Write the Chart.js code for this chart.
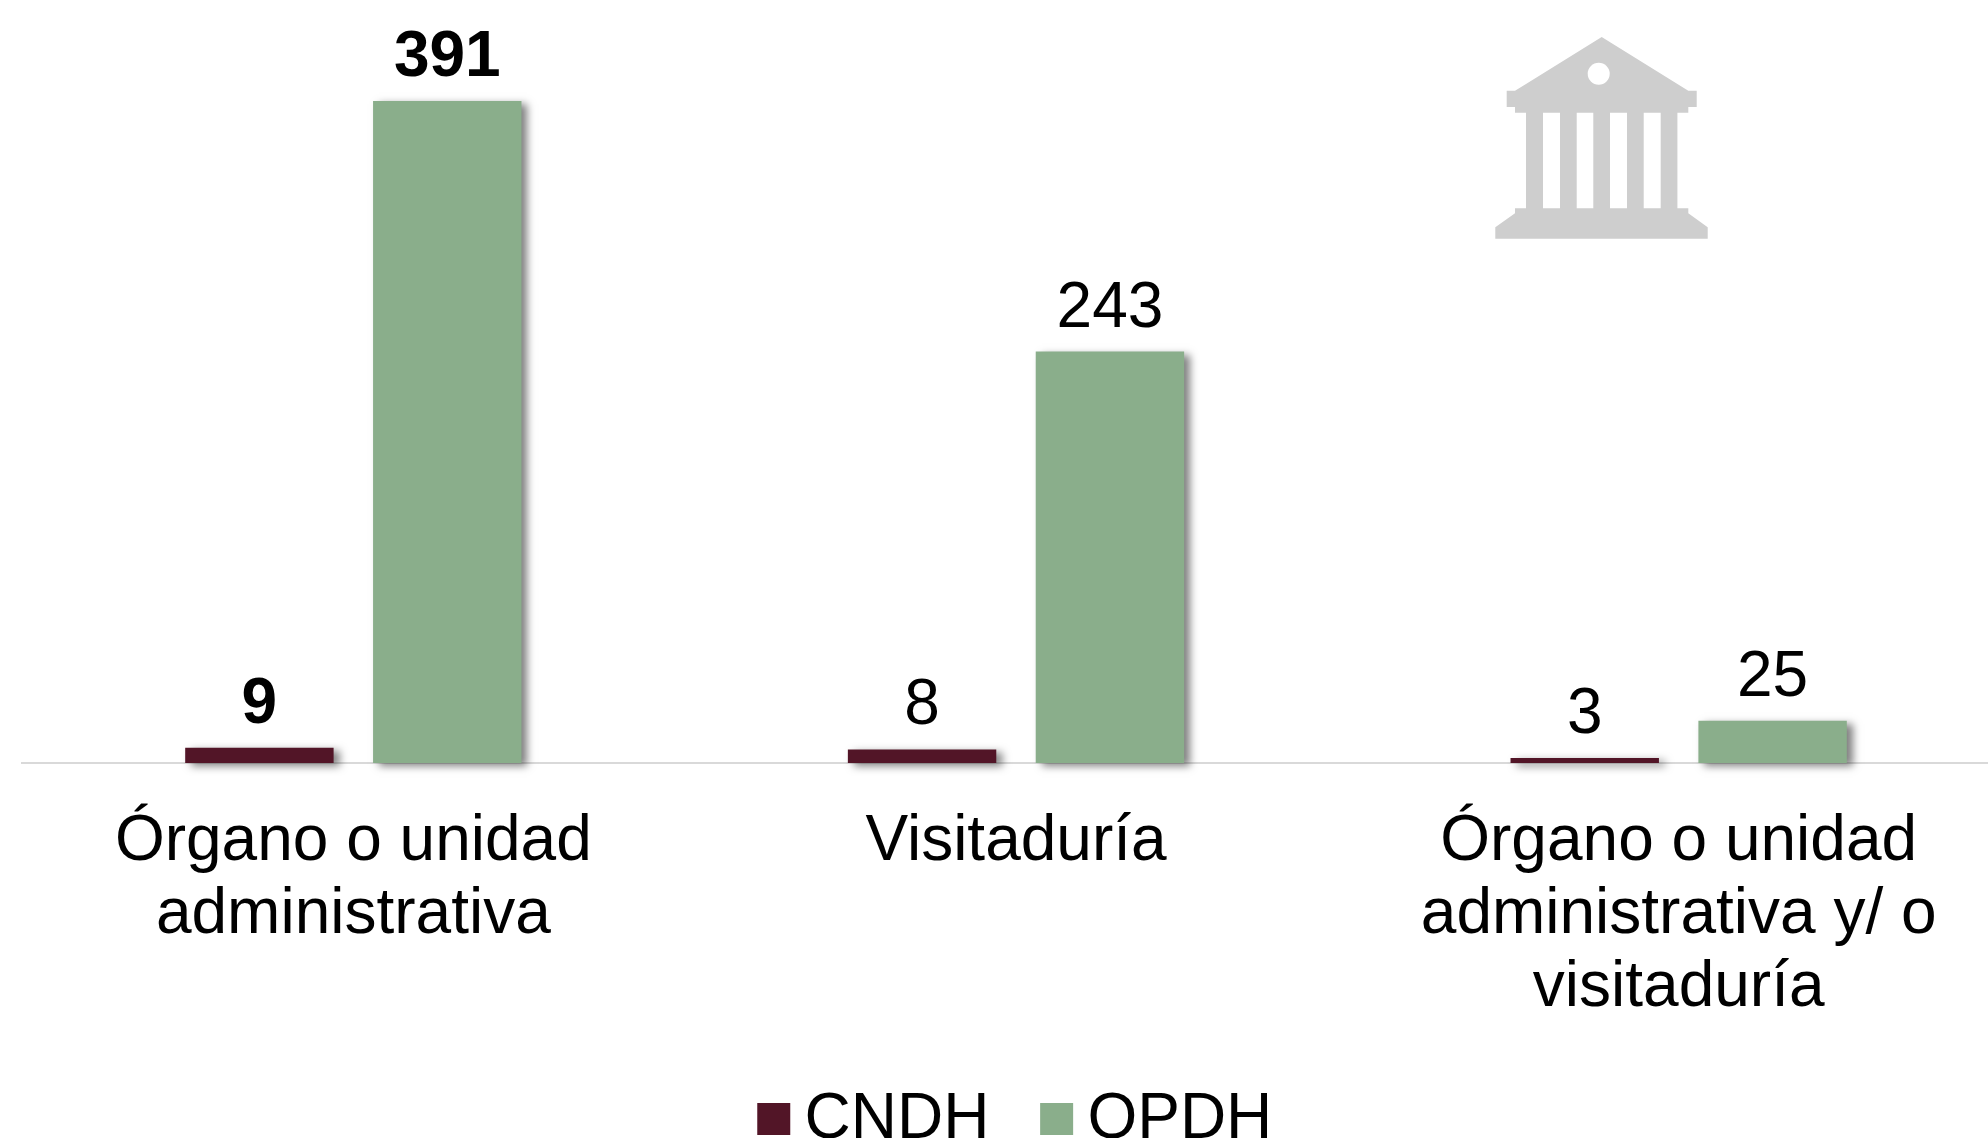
<!DOCTYPE html>
<html><head><meta charset="utf-8">
<style>html,body{margin:0;padding:0;background:#fff;width:1988px;height:1138px;overflow:hidden}
#w{position:relative;width:1988px;height:1138px;overflow:hidden}
canvas{position:absolute;left:0;top:0}
svg{position:absolute;left:0;top:0}</style>
<script src="https://cdn.jsdelivr.net/npm/chart.js@4"></script>
</head><body><div id="w">
<canvas id="c" width="2033" height="1138" style="width:2033px;height:1138px"></canvas>
<svg width="1988" height="1138" fill="#cecece"><path d="M1601.7 37L1688.3 90.7H1696.7V107H1688.3V112.7H1515V107H1506.7V90.7H1515Z"/><rect x="1526" y="112" width="17" height="97"/><rect x="1560" y="112" width="16.7" height="97"/><rect x="1593.3" y="112" width="16.7" height="97"/><rect x="1627" y="112" width="16.7" height="97"/><rect x="1660.7" y="112" width="16.7" height="97"/><path d="M1515 208.3H1688.3V213.3L1707.7 227.3V238.7H1495.3V227.3L1515 213.3Z"/><circle cx="1598.7" cy="73.7" r="11" fill="#fff"/></svg>
</div>
<script>
const categories=[["Órgano o unidad","administrativa"],["Visitaduría"],["Órgano o unidad","administrativa y/ o","visitaduría"]];
const seriesNames=["CNDH","OPDH"];
const cndhValues=[9,8,3];
const opdhValues=[391,243,25];
const boldCategory=[true,false,false];
const colors=["#521527","#8aae8b"];
const FONT='"Liberation Sans", Arial, sans-serif';

const barShadow={id:'barShadow',
 beforeDatasetsDraw(c){const x=c.ctx;x.save();x.shadowColor='rgba(0,0,0,0.5)';x.shadowOffsetX=6;x.shadowOffsetY=3;x.shadowBlur=8;},
 afterDatasetsDraw(c){c.ctx.restore();}};
const valueLabels={id:'valueLabels',afterDraw(c){const x=c.ctx;x.save();x.fillStyle='#000';x.textAlign='center';x.textBaseline='alphabetic';
 c.data.datasets.forEach((d,i)=>c.getDatasetMeta(i).data.forEach((b,j)=>{
  x.font=(boldCategory[j]?'bold ':'')+'64px '+FONT;
  x.fillText(String(d.data[j]),b.x,b.y-25);}));x.restore();}};
const legendDraw={id:'legendDraw',afterDraw(c){const x=c.ctx;x.save();x.font='64px '+FONT;x.textBaseline='alphabetic';x.textAlign='left';
 const box=33,gap=14.3,sep=50.7;
 const w=seriesNames.map(s=>x.measureText(s).width);
 let total=w.reduce((a,b)=>a+b,0)+seriesNames.length*(box+gap)+sep*(seriesNames.length-1);
 let px=(c.chartArea.left+c.chartArea.right)/2-total/2-1.2;
 seriesNames.forEach((s,i)=>{x.fillStyle=colors[i];x.fillRect(px,1103,box,32);x.fillStyle='#000';x.fillText(s,px+box+gap,1138);px+=box+gap+w[i]+sep;});x.restore();}};

new Chart(document.getElementById('c'),{type:'bar',
 data:{labels:categories,datasets:[
  {label:seriesNames[0],data:cndhValues,backgroundColor:colors[0]},
  {label:seriesNames[1],data:opdhValues,backgroundColor:colors[1]}]},
 options:{responsive:false,animation:false,
  layout:{padding:{left:22,right:23,top:101,bottom:0}},
  datasets:{bar:{categoryPercentage:0.567,barPercentage:0.79,clip:false}},
  plugins:{legend:{display:false},tooltip:{enabled:false}},
  scales:{
   y:{display:false,min:0,max:391},
   x:{grid:{display:false,drawTicks:false},border:{color:'#d9d9d9',width:2},
      ticks:{color:'#000',font:{family:FONT,size:64,lineHeight:1.14},padding:43,maxRotation:0,autoSkip:false},
      afterFit(s){s.height=375;}}
  }},
 plugins:[barShadow,valueLabels,legendDraw]});
</script></body></html>
